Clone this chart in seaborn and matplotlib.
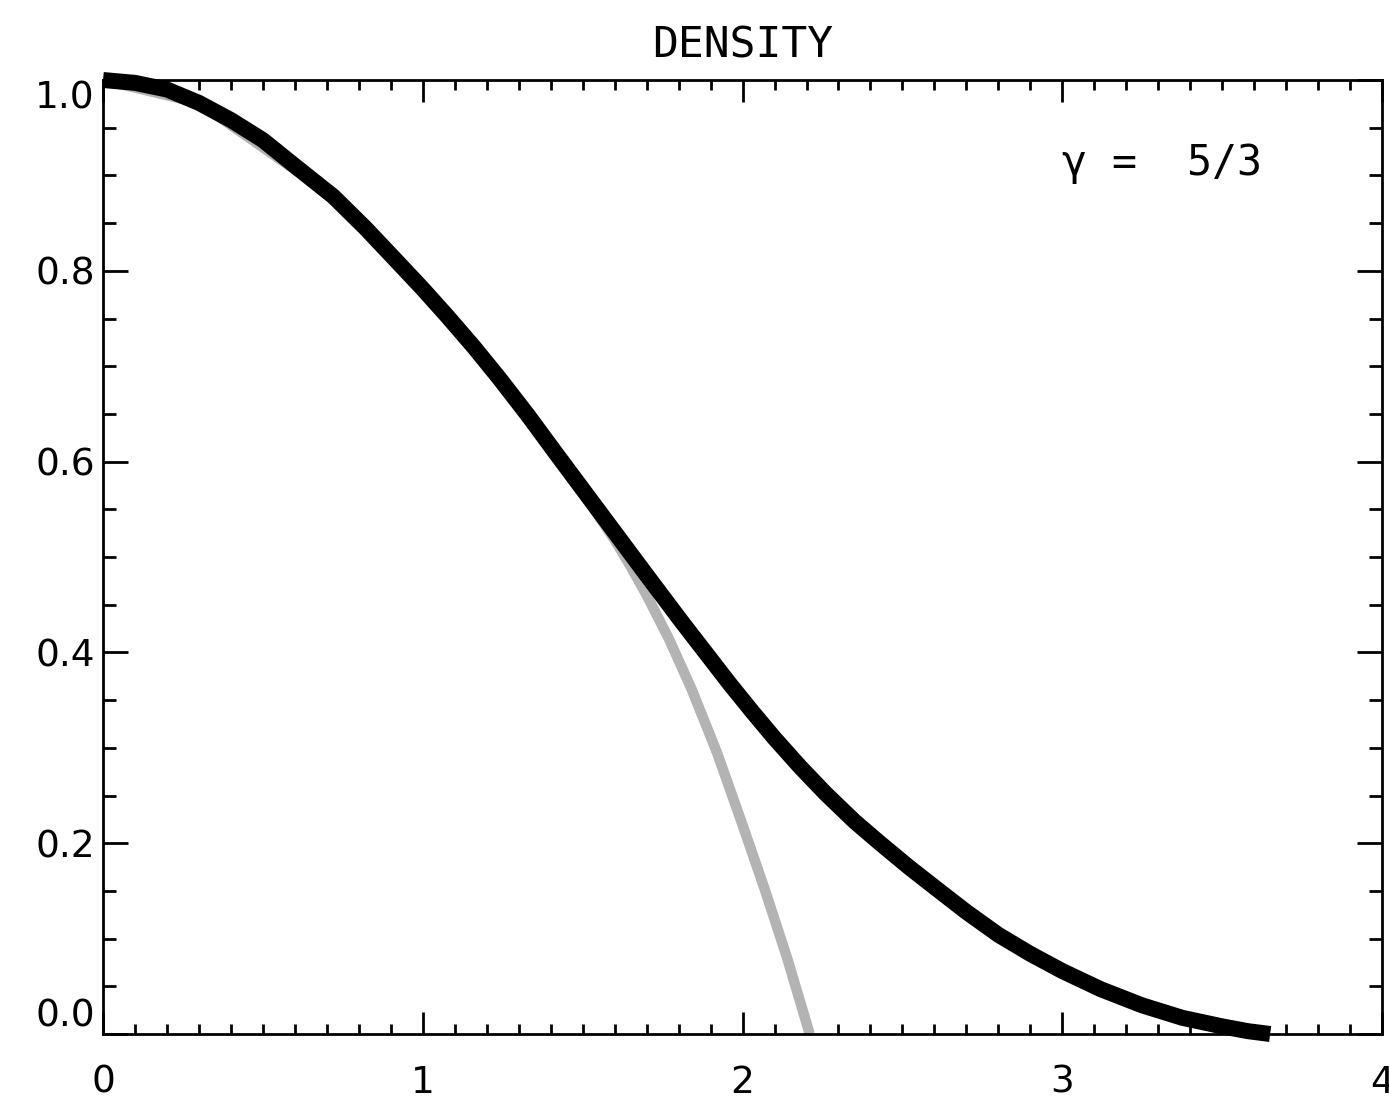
import pandas as pd
import matplotlib
matplotlib.use("Agg")
import matplotlib.pyplot as plt
from matplotlib.ticker import MultipleLocator
import seaborn as sns

# -------------------------------
# values
# -------------------------------
radius_full = [0.0, 0.1, 0.2, 0.3, 0.4, 0.5, 0.6, 0.72, 0.82, 0.93, 1.0, 1.075, 1.16,
               1.24, 1.33, 1.42, 1.5, 1.6, 1.7, 1.81, 1.9, 1.96, 2.03, 2.1, 2.18,
               2.26, 2.35, 2.43, 2.52, 2.6, 2.7, 2.8, 2.9, 3.0, 3.12, 3.25, 3.375,
               3.5, 3.58, 3.65]
density_full = [1.0, 0.997, 0.99, 0.976, 0.958, 0.937, 0.91, 0.878, 0.845, 0.806, 0.781, 0.753, 0.72,
                0.687, 0.648, 0.607, 0.571, 0.526, 0.481, 0.432, 0.393, 0.367, 0.338, 0.31, 0.28,
                0.252, 0.223, 0.2, 0.175, 0.154, 0.128, 0.104, 0.084, 0.066, 0.047, 0.03, 0.017,
                0.008, 0.003, 0.0]

radius_approx = [0.0, 0.3, 0.72, 1.075, 1.42, 1.5, 1.6, 1.65, 1.7, 1.77, 1.84, 1.92, 1.997, 2.07, 2.14, 2.21]
density_approx = [1.0, 0.976, 0.878, 0.753, 0.607, 0.568, 0.518, 0.49, 0.46, 0.414, 0.362, 0.295, 0.222, 0.151, 0.079, 0.0]

x_ticks = [0, 1, 2, 3, 4]
x_tick_labels = ["0", "1", "2", "3", "4"]
y_ticks = [0.0, 0.2, 0.4, 0.6, 0.8, 1.0]
y_tick_labels = ["0.0", "0.2", "0.4", "0.6", "0.8", "1.0"]

title_text = "DENSITY"
gamma_text = "\u03b3 =  5/3"

# -------------------------------
# style
# -------------------------------
sns.set_style("ticks")
plt.rcParams["font.family"] = ["DejaVu Sans"]
plt.rcParams["text.color"] = "black"
plt.rcParams["xtick.labelcolor"] = "black"
plt.rcParams["ytick.labelcolor"] = "black"
fs = 27

df_full = pd.DataFrame({"r": radius_full, "rho": density_full})
df_approx = pd.DataFrame({"r": radius_approx, "rho": density_approx})

fig = plt.figure(figsize=(13.89, 11.02), dpi=100)
ax = fig.add_axes([0.0742, 0.0617, 0.9208, 0.8657])

sns.lineplot(data=df_approx, x="r", y="rho", ax=ax, color="#b3b3b3", linewidth=7.5,
             sort=False, estimator=None, clip_on=False,
             solid_capstyle="butt", solid_joinstyle="round")
sns.lineplot(data=df_full, x="r", y="rho", ax=ax, color="black", linewidth=11.5,
             sort=False, estimator=None, clip_on=False,
             solid_capstyle="butt", solid_joinstyle="round")

ax.set_xlim(0, 4)
ax.set_ylim(0, 1)
ax.set_xticks(x_ticks)
ax.set_xticklabels(x_tick_labels)
ax.set_yticks(y_ticks)
ax.set_yticklabels(y_tick_labels)
ax.xaxis.set_minor_locator(MultipleLocator(0.1))
ax.yaxis.set_minor_locator(MultipleLocator(0.05))
ax.set_xlabel("")
ax.set_ylabel("")

for side in ["top", "right", "bottom", "left"]:
    ax.spines[side].set_visible(True)
    ax.spines[side].set_linewidth(2)
    ax.spines[side].set_color("black")

ax.tick_params(which="both", direction="in", top=True, right=True, width=2, color="black")
ax.tick_params(axis="x", which="major", length=15.8, pad=22, labelsize=fs)
ax.tick_params(axis="x", which="minor", length=7.2)
ax.tick_params(axis="y", which="major", length=18, pad=6, labelsize=fs)
ax.tick_params(axis="y", which="minor", length=9.4)

ylabels = ax.get_yticklabels()
ylabels[0].set_va("bottom")
ylabels[-1].set_va("top")

ax.set_title(title_text, fontsize=31, pad=16.5, color="black", family="DejaVu Sans Mono")
ax.text(3.0, 0.9, gamma_text, fontsize=30, ha="left", va="baseline", color="black",
        family="DejaVu Sans Mono")

fig.savefig("out.png", dpi=100)
